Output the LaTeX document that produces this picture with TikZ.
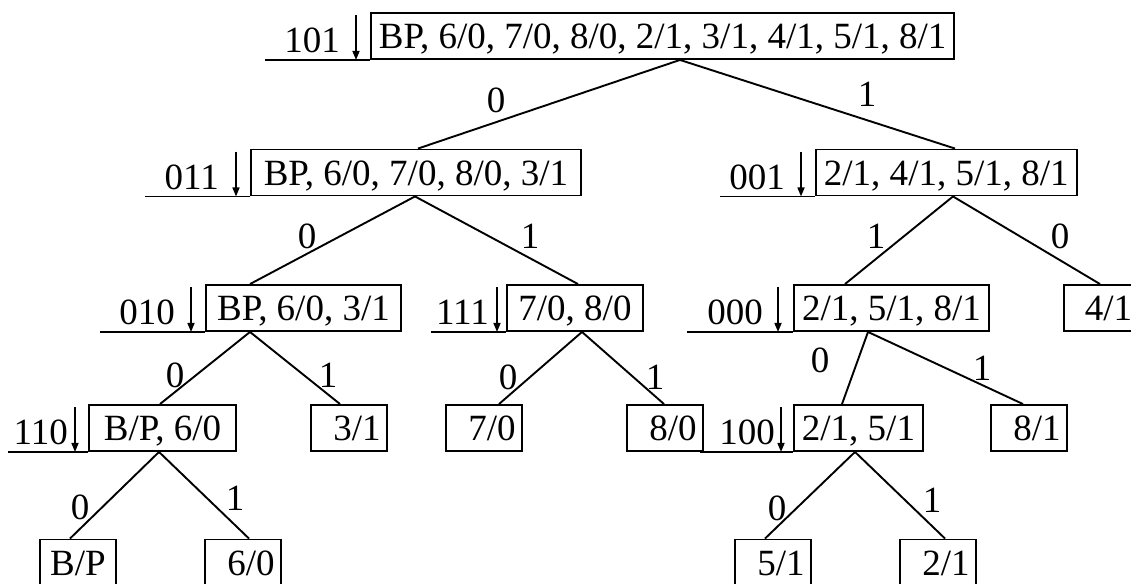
\documentclass[tikz,border=0pt]{standalone}
\usepackage{fontspec}
\setmainfont{Liberation Serif}
\usetikzlibrary{arrows.meta,calc}
\tikzset{
  tf/.style={font=\fontsize{37}{41}\selectfont},
  box/.style={tf, draw, line width=1.9pt, minimum height=46pt, inner xsep=8pt, inner ysep=0pt, text height=25pt, text depth=0pt, anchor=west},
  leaf/.style={box, minimum width=76pt, inner xsep=0pt},
  lbl/.style={tf, inner sep=0pt},
  code/.style={tf, inner sep=0pt, anchor=base east},
  edge/.style={line width=1.9pt},
  base/.style={line width=1.9pt},
  arr/.style={line width=1.6pt, -{Triangle[length=9pt,width=7pt]}},
}
\newcommand{\lp}{\hspace*{16pt}}
\begin{document}
\begin{tikzpicture}[x=1pt,y=-1pt]
\useasboundingbox (0,0) rectangle (1131,583);
% level 1
\node[box] (r) at (370,36) {BP, 6/0, 7/0, 8/0, 2/1, 3/1, 4/1, 5/1, 8/1};
% level 2
\node[box, minimum width=330pt] (a) at (250,172.5) {BP, 6/0, 7/0, 8/0, 3/1};
\node[box] (b) at (815,172.5) {2/1, 4/1, 5/1, 8/1};
% level 3
\node[box, minimum width=195pt] (aa) at (205,308) {BP, 6/0, 3/1};
\node[box, minimum width=136pt] (ab) at (506,308) {7/0, 8/0};
\node[box, minimum width=195pt] (ba) at (793,308) {2/1, 5/1, 8/1};
\node[leaf] (bb) at (1063,308) {\hspace*{13pt}4/1};
% level 4
\node[box, minimum width=147pt] (aaa) at (88,428) {B/P, 6/0};
\node[leaf] (aab) at (310,428) {\lp 3/1};
\node[leaf] (aba) at (445,428) {\lp 7/0};
\node[leaf] (abb) at (626,428) {\lp 8/0};
\node[box, minimum width=120pt] (baa) at (793,428) {2/1, 5/1};
\node[leaf] (bab) at (990,428) {\lp 8/1};
% level 5
\node[leaf] (aaaa) at (39,562.5) {B/P};
\node[leaf] (aaab) at (204,562.5) {\lp 6/0};
\node[leaf] (baaa) at (734,562.5) {\lp 5/1};
\node[leaf] (baab) at (899,562.5) {\lp 2/1};

% codes, base lines and arrows
\draw[base] (r.south west) -- ++(-105,0);
\draw[arr] ($(r.north west)+(-14,3)$) -- ($(r.south west)+(-14,0)$);
\node[code] (cr) at ($(r.south west)+(-30,-7)$) {101};

\draw[base] (a.south west) -- ++(-105,0);
\draw[arr] ($(a.north west)+(-14,3)$) -- ($(a.south west)+(-14,0)$);
\node[code] (ca) at ($(a.south west)+(-31,-7)$) {011};

\draw[base] (b.south west) -- ++(-95,0);
\draw[arr] ($(b.north west)+(-14,3)$) -- ($(b.south west)+(-14,0)$);
\node[code] (cb) at ($(b.south west)+(-30,-7)$) {001};

\draw[base] (aa.south west) -- ++(-105,0);
\draw[arr] ($(aa.north west)+(-14,3)$) -- ($(aa.south west)+(-14,0)$);
\node[code] (caa) at ($(aa.south west)+(-30,-7)$) {010};

\draw[base] (ab.south west) -- ++(-75,0);
\draw[arr] ($(ab.north west)+(-9,3)$) -- ($(ab.south west)+(-9,0)$);
\node[code] (cab) at ($(ab.south west)+(-17,-7)$) {111};

\draw[base] (ba.south west) -- ++(-106,0);
\draw[arr] ($(ba.north west)+(-15,3)$) -- ($(ba.south west)+(-15,0)$);
\node[code] (cba) at ($(ba.south west)+(-30,-7)$) {000};

\draw[base] (aaa.south west) -- ++(-80,0);
\draw[arr] ($(aaa.north west)+(-13,3)$) -- ($(aaa.south west)+(-13,0)$);
\node[code] (caaa) at ($(aaa.south west)+(-20,-7)$) {110};

\draw[base] (baa.south west) -- ++(-93,0);
\draw[arr] ($(baa.north west)+(-12,3)$) -- ($(baa.south west)+(-12,0)$);
\node[code] (cbaa) at ($(baa.south west)+(-18,-7)$) {100};

% edges
\draw[edge] ($(r.south west)+(310,0)$) -- ($(a.north west)+(168,0)$);
\draw[edge] ($(r.south west)+(310,0)$) -- ($(b.north west)+(140,0)$);
\draw[edge] ($(a.south west)+(165,0)$) -- ($(aa.north west)+(45,0)$);
\draw[edge] ($(a.south west)+(165,0)$) -- ($(ab.north west)+(72,0)$);
\draw[edge] ($(b.south west)+(138,0)$) -- ($(ba.north west)+(52,0)$);
\draw[edge] ($(b.south west)+(138,0)$) -- ($(bb.north west)+(37,0)$);
\draw[edge] ($(aa.south west)+(45,0)$) -- ($(aaa.north west)+(72,0)$);
\draw[edge] ($(aa.south west)+(45,0)$) -- ($(aab.north west)+(30,0)$);
\draw[edge] ($(ab.south west)+(76,0)$) -- ($(aba.north west)+(54,0)$);
\draw[edge] ($(ab.south west)+(76,0)$) -- ($(abb.north west)+(38,0)$);
\draw[edge] ($(ba.south west)+(75,0)$) -- ($(baa.north west)+(49,0)$);
\draw[edge] ($(ba.south west)+(75,0)$) -- ($(bab.north west)+(33,0)$);
\draw[edge] ($(aaa.south west)+(71,0)$) -- ($(aaaa.north west)+(31,0)$);
\draw[edge] ($(aaa.south west)+(71,0)$) -- ($(aaab.north west)+(45,0)$);
\draw[edge] ($(baa.south west)+(62,0)$) -- ($(baaa.north west)+(31,0)$);
\draw[edge] ($(baa.south west)+(62,0)$) -- ($(baab.north west)+(46,0)$);

% edge labels
\node[lbl] (l1) at (496,100) {0};
\node[lbl] (l2) at (867,94) {1};
\node[lbl] (l3) at (307,236) {0};
\node[lbl] (l4) at (530,236) {1};
\node[lbl] (l5) at (876,236) {1};
\node[lbl] (l6) at (1060,236) {0};
\node[lbl] (l7) at (175,375) {0};
\node[lbl] (l8) at (328,375) {1};
\node[lbl] (l9) at (508,377) {0};
\node[lbl] (l10) at (655,377) {1};
\node[lbl] (l11) at (820,360) {0};
\node[lbl] (l12) at (982,368) {1};
\node[lbl] (l13) at (80,507) {0};
\node[lbl] (l14) at (235,498) {1};
\node[lbl] (l15) at (777,508) {0};
\node[lbl] (l16) at (932,500) {1};
\end{tikzpicture}
\end{document}
